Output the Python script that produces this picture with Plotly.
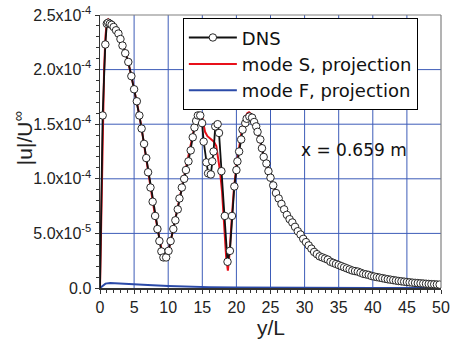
import plotly.graph_objects as go

# ---------------- data (u in units of 1e-4) ----------------
dns_y = [0.0, 0.39, 0.78, 1.0, 1.2, 1.45, 1.7, 2.0, 2.35, 2.7, 3.0, 3.3, 3.7, 4.15, 4.6,
         5.0, 5.4, 5.77, 6.1, 6.46, 6.78, 7.05, 7.4, 7.72, 8.08, 8.42, 8.71, 9.0, 9.3, 9.7,
         10.05, 10.35, 10.75, 11.05, 11.4, 11.65, 12.0, 12.34, 12.6, 12.97, 13.3, 13.6, 13.85,
         14.1, 14.35, 14.7, 14.97, 15.2, 15.6, 15.85, 16.25, 16.45, 16.65, 16.9, 17.25, 17.45,
         17.8, 18.3, 18.7, 19.05, 19.35, 19.7, 20.0, 20.15, 20.4, 20.7, 20.9, 21.3, 21.5, 21.9,
         22.3, 22.6, 22.9, 23.1, 23.5, 23.75, 24.0, 24.4, 24.7, 25.0,
         25.4, 25.8, 26.2, 26.6, 27.0, 27.4, 27.8, 28.2, 28.6, 29.0, 29.4, 29.8, 30.2, 30.6,
         31.0, 31.4, 31.8, 32.2, 32.6, 33.0, 33.4, 33.8, 34.2, 34.6, 35.0, 35.4, 35.8, 36.2,
         36.6, 37.0, 37.4, 37.8, 38.2, 38.6, 39.0, 39.4, 39.8, 40.2, 40.6, 41.0, 41.4, 41.8,
         42.2, 42.6, 43.0, 43.4, 43.8, 44.2, 44.6, 45.0, 45.4, 45.8, 46.2, 46.6, 47.0, 47.4,
         47.8, 48.2, 48.6, 49.0, 49.4, 49.8]
dns_u = [0.0, 1.58, 2.23, 2.42, 2.43, 2.42, 2.41, 2.39, 2.36, 2.33, 2.28, 2.22, 2.15, 2.07, 1.94,
         1.82, 1.71, 1.58, 1.46, 1.32, 1.19, 1.06, 0.92, 0.79, 0.66, 0.54, 0.43, 0.335, 0.28, 0.28,
         0.34, 0.43, 0.54, 0.62, 0.72, 0.82, 0.92, 1.0, 1.08, 1.16, 1.26, 1.38, 1.47,
         1.53, 1.58, 1.58, 1.51, 1.34, 1.15, 1.05, 1.04, 1.16, 1.25, 1.48, 1.50, 1.42,
         1.07, 0.66, 0.24, 0.34, 0.66, 0.93, 1.08, 1.16, 1.25, 1.36, 1.45, 1.51, 1.55, 1.57,
         1.56, 1.52, 1.48, 1.43, 1.36, 1.28, 1.20, 1.14, 1.07, 1.01,
         0.94, 0.87, 0.82, 0.77, 0.72, 0.67, 0.63, 0.60, 0.56, 0.52, 0.49, 0.45, 0.42, 0.39,
         0.36, 0.33, 0.31, 0.29, 0.28, 0.27, 0.26, 0.24, 0.23, 0.22, 0.21, 0.20, 0.19, 0.18,
         0.17, 0.16, 0.155, 0.15, 0.14, 0.13, 0.125, 0.12, 0.11, 0.105, 0.10, 0.095, 0.09, 0.085,
         0.08, 0.076, 0.072, 0.068, 0.064, 0.061, 0.058, 0.055, 0.052, 0.049, 0.047, 0.045, 0.043, 0.041,
         0.039, 0.037, 0.035, 0.034, 0.032, 0.031]

modeS_y = [0, 0.2, 0.4, 0.6, 0.8, 1.0, 1.2, 1.5, 2.0, 2.5, 3.0, 3.5, 4.0, 4.5, 5.0, 5.5, 6.0,
           6.5, 7.0, 7.5, 8.0, 8.5, 9.0, 9.5, 10.0, 10.5, 11.0, 11.5, 12.0, 12.5, 13.0, 13.5,
           14.0, 14.4, 14.7, 15.0, 15.4, 15.75, 16.25, 16.7, 17.05, 17.35, 17.6, 17.9, 18.2,
           18.5, 18.75, 19.0, 19.3, 19.6, 20.0, 20.4, 20.8, 21.2, 21.6, 21.85, 22.2, 22.6,
           23.0, 23.5, 24.0, 24.5, 25.0, 26, 27, 28, 29, 30, 31, 32, 33, 34, 35, 37, 39, 41,
           43, 45, 47, 50]
modeS_u = [0, 0.8, 1.5, 2.0, 2.3, 2.44, 2.46, 2.44, 2.41, 2.37, 2.30, 2.20, 2.10, 1.97, 1.83,
           1.67, 1.50, 1.31, 1.10, 0.89, 0.69, 0.51, 0.36, 0.29, 0.33, 0.47, 0.62, 0.77, 0.93,
           1.07, 1.20, 1.36, 1.52, 1.59, 1.60, 1.56, 1.43, 1.39, 1.36, 1.34, 1.30, 1.19, 1.07,
           0.88, 0.55, 0.28, 0.16, 0.32, 0.62, 0.88, 1.12, 1.30, 1.45, 1.55, 1.60, 1.61, 1.59,
           1.53, 1.45, 1.34, 1.21, 1.10, 1.01, 0.83, 0.71, 0.61, 0.52, 0.43, 0.36, 0.30, 0.27,
           0.23, 0.21, 0.16, 0.125, 0.095, 0.072, 0.055, 0.043, 0.03]

modeF_y = [0, 0.4, 0.8, 1.5, 3, 5, 7, 10, 13, 16, 20, 25, 30, 40, 50]
modeF_u = [0, 0.02, 0.04, 0.045, 0.042, 0.036, 0.028, 0.019, 0.012, 0.008, 0.005, 0.003,
           0.002, 0.001, 0.0]

scale = 1e-4
y_tickvals = [0, 0.5, 1.0, 1.5, 2.0, 2.5]
y_ticktext = ["0.0", "5.0x10<sup>-5</sup>", "1.0x10<sup>-4</sup>", "1.5x10<sup>-4</sup>",
              "2.0x10<sup>-4</sup>", "2.5x10<sup>-4</sup>"]
x_tickvals = [0, 5, 10, 15, 20, 25, 30, 35, 40, 45, 50]

FONT = "Liberation Sans, Arial, sans-serif"
WIDE = "DejaVu Sans, Liberation Sans, sans-serif"
GRID = "#3d5cb8"

fig = go.Figure()
fig.add_trace(go.Scatter(
    x=modeS_y, y=[v * scale for v in modeS_u], mode="lines",
    name="mode S, projection", line=dict(color="#e8101a", width=2), legendrank=2))
fig.add_trace(go.Scatter(
    x=modeF_y, y=[v * scale for v in modeF_u], mode="lines",
    name="mode F, projection", line=dict(color="#2b4aa8", width=2), legendrank=3))
fig.add_trace(go.Scatter(
    x=dns_y, y=[v * scale for v in dns_u], mode="lines+markers",
    name="DNS", line=dict(color="#111111", width=1.8),
    marker=dict(size=[0] + [7.5] * (len(dns_y) - 1), color="white", opacity=1,
                line=dict(color="#111111", width=0.9)),
    legendrank=1))

# grid lines at the major tick positions (layout guides, drawn below the traces)
grid_shapes = []
for xv in x_tickvals[1:-1]:
    grid_shapes.append(dict(type="line", xref="x", yref="paper", x0=xv, x1=xv, y0=0, y1=1,
                            layer="below", line=dict(color=GRID, width=1)))
for yv in y_tickvals[1:-1]:
    grid_shapes.append(dict(type="line", xref="paper", yref="y", x0=0, x1=1,
                            y0=yv * scale, y1=yv * scale,
                            layer="below", line=dict(color=GRID, width=1)))
frame_shapes = [
    dict(type="line", xref="paper", yref="paper", x0=0, x1=1, y0=1, y1=1,
         line=dict(color="#808080", width=1.2)),
    dict(type="line", xref="paper", yref="paper", x0=1, x1=1, y0=0, y1=1,
         line=dict(color="#808080", width=1.2)),
]

fig.update_layout(
    template="none",
    width=451, height=351,
    margin=dict(l=100, r=10, t=15, b=63, autoexpand=False),
    paper_bgcolor="white", plot_bgcolor="white",
    font=dict(family=FONT, color="#222222"),
    showlegend=True,
    legend=dict(x=0.243, y=0.988, xanchor="left", yanchor="top",
                bgcolor="white", bordercolor="black", borderwidth=1,
                font=dict(size=18, family=WIDE, color="#111111"),
                itemwidth=48, tracegroupgap=0),
    annotations=[
        dict(x=37.3, y=1.265e-4, xref="x", yref="y", text="x = 0.659 m",
             showarrow=False, font=dict(size=17, family=WIDE, color="#111111")),
        dict(x=-0.225, y=0.55, xref="paper", yref="paper", text="|u|/U<sup>∞</sup>",
             textangle=-90, showarrow=False, xanchor="center", yanchor="middle",
             font=dict(size=21, family=FONT, color="#222222")),
        dict(x=0.5, y=-0.143, xref="paper", yref="paper", text="y/L",
             showarrow=False, xanchor="center", yanchor="middle",
             font=dict(size=21, family=FONT, color="#222222")),
    ],
    shapes=grid_shapes + frame_shapes,
)

fig.update_xaxes(
    range=[0, 50], tickmode="array", tickvals=x_tickvals, ticks="outside", ticklen=4, tickwidth=1,
    tickcolor="#333333", showline=True, linecolor="#333333", linewidth=1.5,
    showgrid=False, zeroline=False, automargin=False,
    tickfont=dict(size=16, family=FONT, color="#222222"),
    minor=dict(dtick=1, ticks="outside", ticklen=3, tickcolor="#333333"),
)
fig.update_yaxes(
    range=[0, 2.5e-4], tickmode="array", tickvals=[v * scale for v in y_tickvals],
    ticktext=y_ticktext,
    ticks="outside", ticklen=4, tickwidth=1, tickcolor="#333333",
    showline=True, linecolor="#333333", linewidth=1.5,
    showgrid=False, zeroline=False, automargin=False,
    tickfont=dict(size=16, family=FONT, color="#222222"),
    minor=dict(dtick=0.1e-4, ticks="outside", ticklen=3, tickcolor="#333333"),
)

fig.write_html("out.html",
               config={"displayModeBar": False, "staticPlot": True},
               post_script="document.body.style.margin='0';document.body.style.padding='0';")
